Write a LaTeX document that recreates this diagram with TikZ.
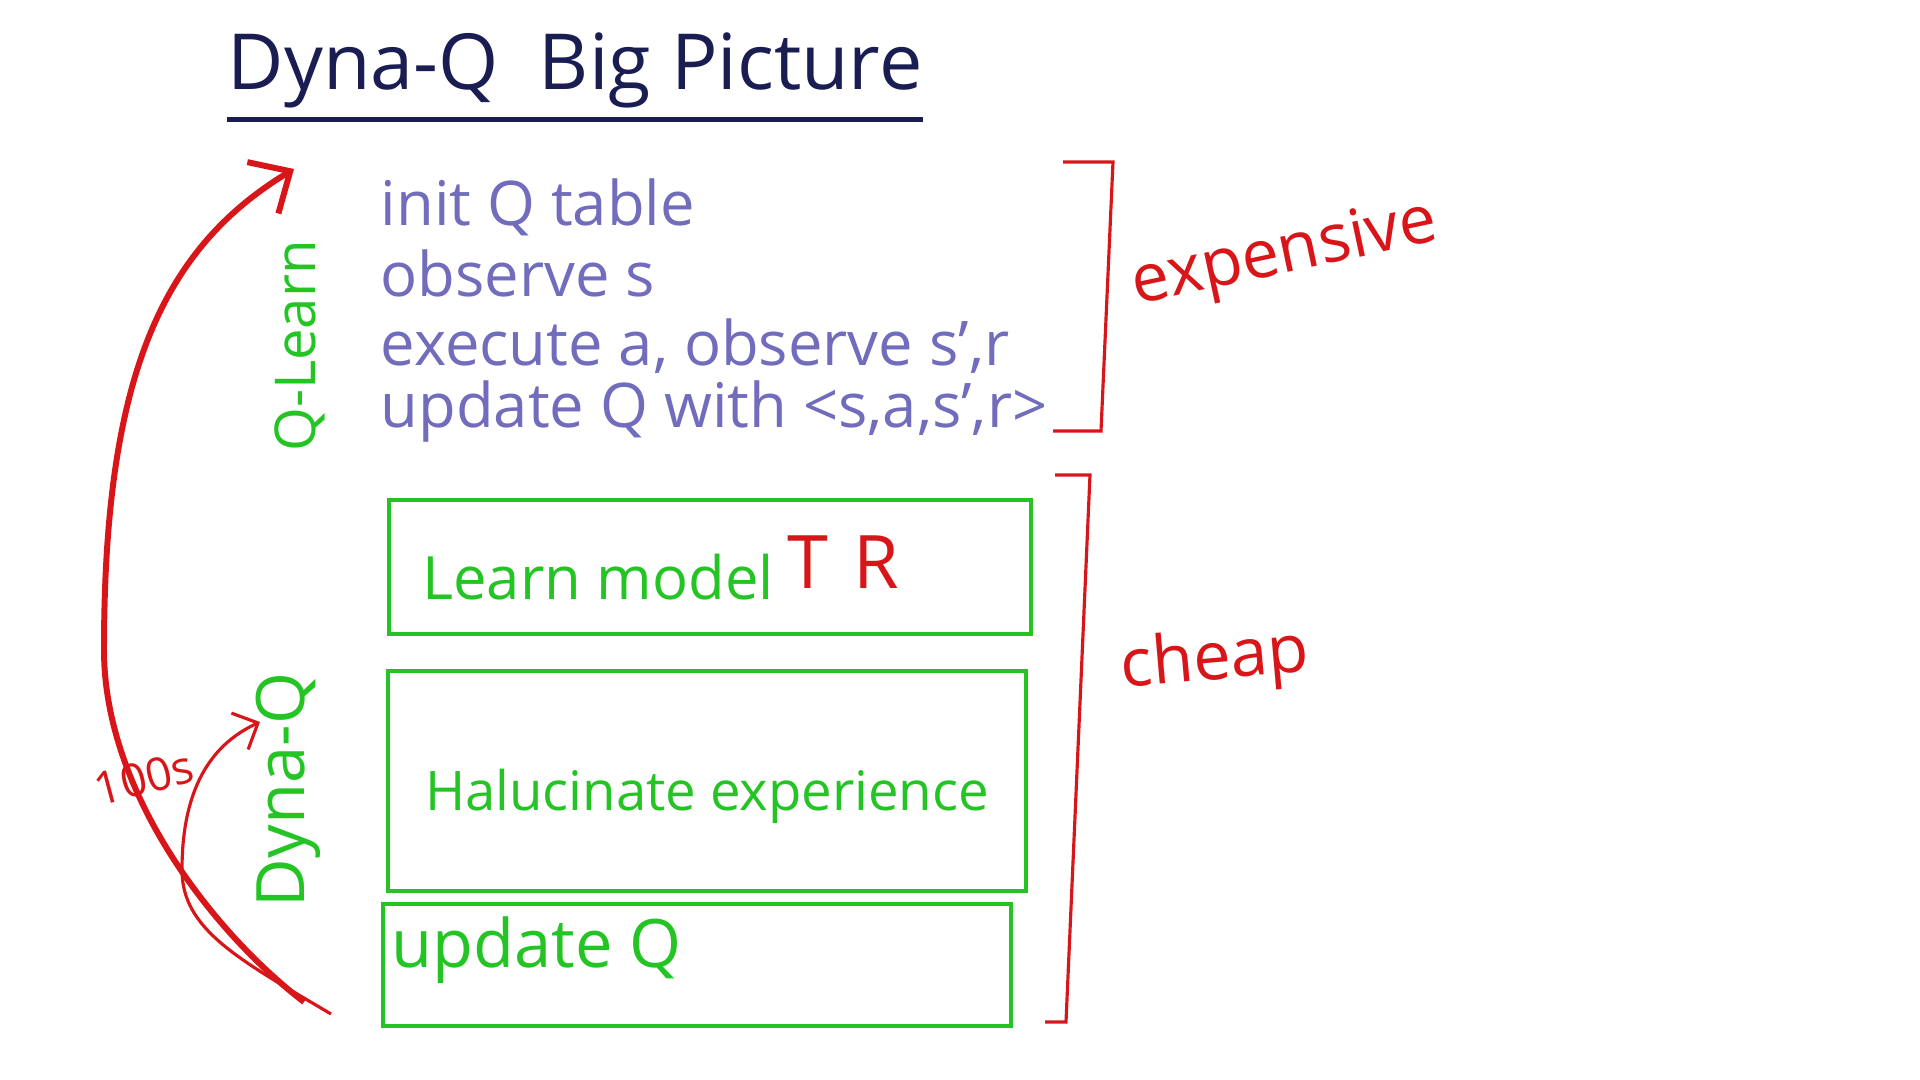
\documentclass[tikz,border=0pt]{standalone}
\usepackage{fontspec}
\setmainfont{Open Sans}
\usetikzlibrary{arrows.meta, positioning}
\definecolor{pennavy}{HTML}{1A1D52}
\definecolor{penblue}{HTML}{716CBC}
\definecolor{pengreen}{HTML}{24C424}
\definecolor{penred}{HTML}{D8161A}
\tikzset{
    titletext/.style={text=pennavy, font=\fontsize{22}{26}\selectfont, inner sep=0pt},
    steptext/.style={text=penblue, font=\fontsize{17.5}{21}\selectfont, anchor=base west, inner sep=0pt},
    stagebox/.style={draw=pengreen, line width=1.2pt, inner sep=0pt},
    stagetext/.style={text=pengreen, font=\fontsize{17}{20}\selectfont, inner sep=0pt},
    sidelabel/.style={text=pengreen, font=\fontsize{16}{19}\selectfont, rotate=90, inner sep=0pt},
    costlabel/.style={text=penred, font=\fontsize{19}{23}\selectfont, inner sep=0pt},
    costbracket/.style={draw=penred, line width=0.9pt},
    looparrow/.style={-{Straight Barb[length=3.2mm,width=6mm]}, draw=penred, line width=1.7pt},
    innerarrow/.style={-{Straight Barb[length=2mm,width=4mm]}, draw=penred, line width=0.9pt}
}

\begin{document}
\begin{tikzpicture}[x=0.01cm, y=-0.01cm]
    \useasboundingbox (0,0) rectangle (1920,1080);
    \node[titletext, anchor=base] (title) at (575,90) {Dyna-Q \ Big Picture};
    \draw[pennavy, line width=1.3pt] ([yshift=-1mm]title.south west) -- ([yshift=-1mm]title.south east);

    % Q-learning steps
    \node[steptext] (init) at (380,226) {init Q table};
    \node[steptext] (obs) at (380,297) {observe s};
    \node[steptext] (exec) at (380,366) {execute a, observe s',r};
    \node[steptext] (upd) at (380,428) {update Q with <s,a,s',r>};
    \node[sidelabel] (qlearn) at (300,346) {Q-Learn};

    % Dyna-Q stages
    \node[stagebox, minimum width=6.42cm, minimum height=1.34cm] (model) at (710,567) {};
    \node[stagebox, minimum width=6.37cm, minimum height=2.20cm] (halluc) at (707,781) {};
    \node[stagebox, minimum width=6.28cm, minimum height=1.22cm] (qupd) at (697,965) {};
    \node[stagetext, anchor=west] (modeltxt) at ([xshift=3.5mm, yshift=-1mm]model.west) {Learn model};
    \node[costlabel, font=\fontsize{21}{25}\selectfont, right=1.2mm of modeltxt, yshift=1.5mm] (tr) {T\hspace{2.5mm}R};
    \node[stagetext, font=\fontsize{15.5}{19}\selectfont] (hallutxt) at ([yshift=-1.5mm]halluc.center) {Halucinate experience};
    \node[stagetext, font=\fontsize{19}{22}\selectfont, anchor=west] (qupdtxt) at ([xshift=1mm, yshift=1.5mm]qupd.west) {update Q};
    \node[sidelabel, font=\fontsize{19}{22}\selectfont] (dynaq) at (288,790) {Dyna-Q};

    % Cost brackets
    \coordinate (e1) at (1063,162);
    \coordinate (e2) at (1113,162);
    \coordinate (e3) at (1101,431);
    \coordinate (e4) at (1053,431);
    \draw[costbracket] (e1) -- (e2) -- (e3) -- (e4);
    \node[costlabel, rotate=12] (expensive) at (1285,256) {expensive};
    \coordinate (c1) at (1055,475);
    \coordinate (c2) at (1090,475);
    \coordinate (c3) at (1066,1022);
    \coordinate (c4) at (1045,1022);
    \draw[costbracket] (c1) -- (c2) -- (c3) -- (c4);
    \node[costlabel, rotate=5] (cheap) at (1215,662) {cheap};

    % Loops
    \coordinate (bigstart) at (304,1002);
    \coordinate (bigmid) at (104,650);
    \coordinate (bigtip) at (294,169);
    \draw[looparrow] (bigstart) .. controls (210,930) and (104,790) .. (bigmid)
        .. controls (104,380) and (160,250) .. (bigtip);
    \coordinate (smallstart) at (331,1014);
    \coordinate (smallmid) at (182,870);
    \coordinate (smalltip) at (260,722);
    \draw[innerarrow] (smallstart) .. controls (240,960) and (182,930) .. (smallmid)
        .. controls (182,790) and (210,745) .. (smalltip);
    \node[costlabel, font=\fontsize{13}{15}\selectfont, rotate=15] (reps) at (144,778) {100s};
\end{tikzpicture}
\end{document}
